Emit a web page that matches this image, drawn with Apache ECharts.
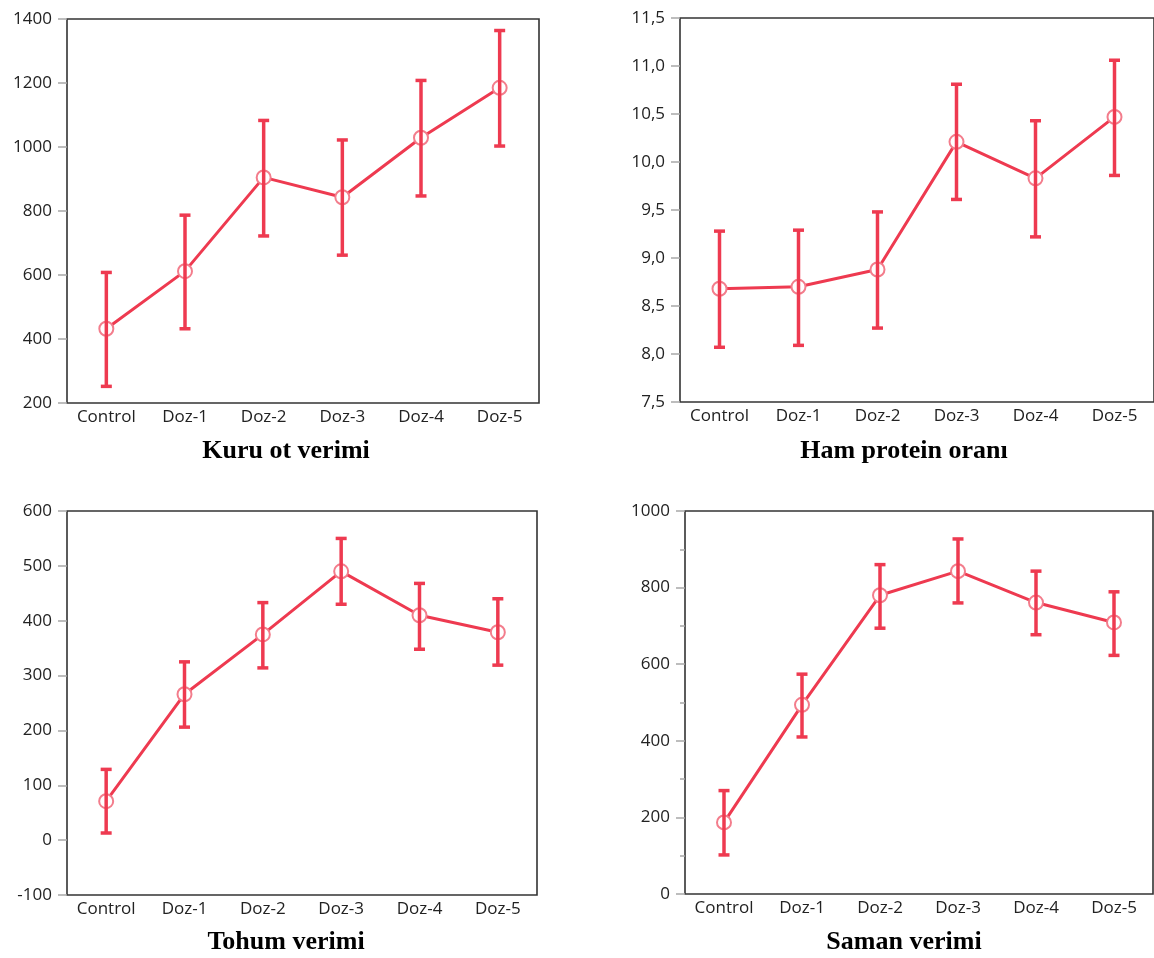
<!DOCTYPE html>
<html>
<head>
<meta charset="utf-8">
<script src="https://cdn.jsdelivr.net/npm/echarts@6/dist/echarts.min.js"></script>
<style>
html,body{margin:0;padding:0;background:#fff;}
#chart{width:1154px;height:958px;}
</style>
</head>
<body>
<div id="chart"></div>
<script>
// ---- data ----
const categories = ['Control', 'Doz-1', 'Doz-2', 'Doz-3', 'Doz-4', 'Doz-5'];

const kuruMean = [432, 612, 905, 843, 1029, 1185];
const kuruLow  = [252, 432, 722, 662, 847, 1003];
const kuruHigh = [608, 787, 1083, 1022, 1208, 1364];

const hamMean = [8.68, 8.70, 8.88, 10.21, 9.83, 10.47];
const hamLow  = [8.07, 8.09, 8.27, 9.61, 9.22, 9.86];
const hamHigh = [9.28, 9.29, 9.48, 10.81, 10.43, 11.06];

const tohumMean = [71, 266, 375, 490, 410, 379];
const tohumLow  = [13, 206, 314, 430, 348, 319];
const tohumHigh = [129, 325, 433, 550, 468, 440];

const samanMean = [187, 494, 780, 843, 761, 709];
const samanLow  = [102, 410, 694, 760, 677, 623];
const samanHigh = [270, 574, 860, 927, 843, 789];

const titles = ['Kuru ot verimi', 'Ham protein oranı', 'Tohum verimi', 'Saman verimi'];

// y-axis scales: [min, max, interval]
const yKuru  = [200, 1400, 200];
const yHam   = [7.5, 11.5, 0.5];
const yTohum = [-100, 600, 100];
const ySaman = [0, 1000, 200];

// ---- styling / layout ----
const RED = '#ee3a50';
const FONT = '"Open Sans", "Noto Sans", sans-serif';
const grids = [
  {left: 67,  top: 19,  width: 472, height: 384},
  {left: 680, top: 18,  width: 476, height: 384},
  {left: 67,  top: 511, width: 470, height: 384},
  {left: 685, top: 511, width: 468, height: 383}
];
const titlePos = [[286, 451], [904, 451], [286, 942], [904, 942]];

const panels = [
  {mean: kuruMean,  low: kuruLow,  high: kuruHigh,  y: yKuru,  fmt: v => String(v), minor: false},
  {mean: hamMean,   low: hamLow,   high: hamHigh,   y: yHam,   fmt: v => v.toFixed(1).replace('.', ','), minor: false},
  {mean: tohumMean, low: tohumLow, high: tohumHigh, y: yTohum, fmt: v => String(v), minor: false},
  {mean: samanMean, low: samanLow, high: samanHigh, y: ySaman, fmt: v => String(v), minor: true}
];

function errorRender(params, api) {
  const x = api.value(0);
  const lo = api.coord([x, api.value(1)]);
  const hi = api.coord([x, api.value(2)]);
  const hw = 5.5;
  const st = {stroke: RED, lineWidth: 3.5};
  return {
    type: 'group',
    children: [
      {type: 'line', shape: {x1: lo[0], y1: lo[1], x2: hi[0], y2: hi[1]}, style: st},
      {type: 'line', shape: {x1: hi[0] - hw, y1: hi[1], x2: hi[0] + hw, y2: hi[1]}, style: st},
      {type: 'line', shape: {x1: lo[0] - hw, y1: lo[1], x2: lo[0] + hw, y2: lo[1]}, style: st}
    ]
  };
}

const option = {
  animation: false,
  backgroundColor: '#fff',
  grid: grids.map(g => Object.assign({show: true, borderColor: '#333', borderWidth: 1.6, backgroundColor: 'transparent'}, g)),
  xAxis: panels.map((p, i) => ({
    type: 'category',
    gridIndex: i,
    data: categories,
    boundaryGap: true,
    axisLine: {show: false},
    axisTick: {show: false},
    splitLine: {show: false},
    axisLabel: {color: '#222', fontFamily: FONT, fontSize: 17, margin: 6, interval: 0}
  })),
  yAxis: panels.map((p, i) => ({
    type: 'value',
    gridIndex: i,
    min: p.y[0], max: p.y[1], interval: p.y[2],
    axisLine: {show: false},
    axisTick: {show: true, length: 9, lineStyle: {color: '#a8a8a8', width: 1.5}},
    minorTick: {show: p.minor, splitNumber: 2, length: 5, lineStyle: {color: '#a8a8a8', width: 1.5}},
    splitLine: {show: false},
    axisLabel: {color: '#222', fontFamily: FONT, fontSize: 17, margin: 15, formatter: p.fmt}
  })),
  series: [].concat(...panels.map((p, i) => [
    {
      type: 'line',
      xAxisIndex: i, yAxisIndex: i,
      data: p.mean,
      symbol: 'emptyCircle',
      symbolSize: 14,
      lineStyle: {color: RED, width: 3},
      itemStyle: {color: '#f37d8c', borderColor: '#f37d8c', borderWidth: 1.5},
      z: 2
    },
    {
      type: 'custom',
      xAxisIndex: i, yAxisIndex: i,
      data: categories.map((c, k) => [k, p.low[k], p.high[k]]),
      encode: {x: 0, y: [1, 2]},
      renderItem: errorRender,
      z: 3
    }
  ])),
  graphic: titles.map((t, i) => ({
    type: 'text',
    x: titlePos[i][0], y: titlePos[i][1],
    style: {
      text: t,
      fill: '#000',
      font: 'bold 26px "Liberation Serif", "Times New Roman", serif',
      textAlign: 'center',
      textVerticalAlign: 'middle'
    }
  }))
};

const chart = echarts.init(document.getElementById('chart'), null, {renderer: 'canvas'});
chart.setOption(option);
</script>
</body>
</html>
